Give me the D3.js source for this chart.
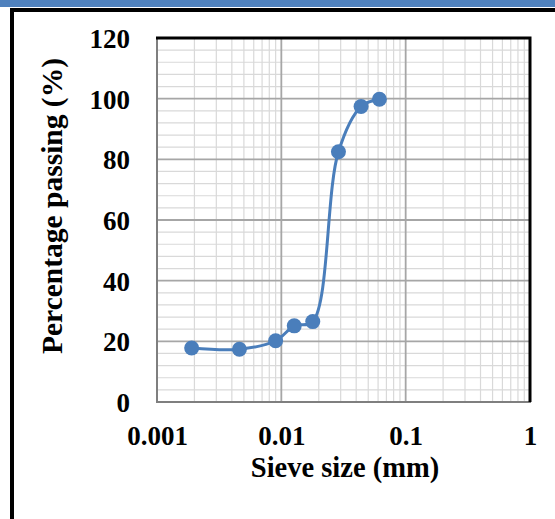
<!DOCTYPE html>
<html>
<head>
<meta charset="utf-8">
<script src="https://cdn.jsdelivr.net/npm/d3@7.9.0/dist/d3.min.js"></script>
<style>
  body { margin: 0; background: #fff; }
  svg { display: block; }
  .tick text, .title { font-family: "Liberation Serif", "Times New Roman", serif; font-weight: bold; fill: #000; }
</style>
</head>
<body>
<svg id="chart" width="555" height="519"></svg>
<script>
// grain size distribution
const sieveSize = [0.0019, 0.0046, 0.009, 0.0127, 0.0179, 0.0288, 0.0438, 0.0615];
const passing = [17.8, 17.4, 20.2, 25.1, 26.5, 82.5, 97.4, 99.8];
const xTicks = [0.001, 0.01, 0.1, 1];
const xTickLabels = ['0.001', '0.01', '0.1', '1'];
const yTicks = [0, 20, 40, 60, 80, 100, 120];

const svg = d3.select('#chart');
const plotL = 157, plotR = 530, plotT = 38, plotB = 402;
const blue = '#4a7ebb';

// frame round the picture
svg.append('rect').attr('x', 0).attr('y', 0).attr('width', 555).attr('height', 7).attr('fill', '#4f81bd');
svg.append('rect').attr('x', 10).attr('y', 8).attr('width', 545).attr('height', 4).attr('fill', '#000');
svg.append('rect').attr('x', 10).attr('y', 8).attr('width', 4).attr('height', 511).attr('fill', '#000');

const x = d3.scaleLog().domain([0.001, 1]).range([plotL, plotR]);
const y = d3.scaleLinear().domain([0, 120]).range([plotB, plotT]);

// minor grid
const minorX = [];
[0.001, 0.01, 0.1].forEach(d => { for (let k = 2; k <= 9; k++) minorX.push(d * k); });
const minorY = d3.range(0, 121, 4).filter(v => v % 20 !== 0);

const grid = svg.append('g');
grid.selectAll('.mx').data(minorX).join('line')
  .attr('x1', d => x(d)).attr('x2', d => x(d)).attr('y1', plotT).attr('y2', plotB)
  .attr('stroke', '#d9d9d9').attr('stroke-width', 1.2);
grid.selectAll('.my').data(minorY).join('line')
  .attr('x1', plotL).attr('x2', plotR).attr('y1', d => y(d)).attr('y2', d => y(d))
  .attr('stroke', '#d9d9d9').attr('stroke-width', 1.2);
grid.selectAll('.jx').data(xTicks).join('line')
  .attr('x1', d => x(d)).attr('x2', d => x(d)).attr('y1', plotT).attr('y2', plotB)
  .attr('stroke', '#a6a6a6').attr('stroke-width', 1.8);
grid.selectAll('.jy').data(yTicks).join('line')
  .attr('x1', plotL).attr('x2', plotR).attr('y1', d => y(d)).attr('y2', d => y(d))
  .attr('stroke', '#a6a6a6').attr('stroke-width', 1.8);

// plot border
svg.append('rect').attr('x', plotL).attr('y', plotT).attr('width', plotR - plotL).attr('height', plotB - plotT)
  .attr('fill', 'none').attr('stroke', '#7f7f7f').attr('stroke-width', 2);
svg.append('path').attr('d', `M${plotL - 1},${plotT}H${plotR}V${plotB}`)
  .attr('fill', 'none').attr('stroke', '#000').attr('stroke-width', 3);

// axes
const xAxis = svg.append('g').attr('transform', `translate(0,${plotB})`)
  .call(d3.axisBottom(x).tickValues(xTicks).tickFormat((d, i) => xTickLabels[i]).tickSize(0));
xAxis.select('.domain').remove();
xAxis.selectAll('text').attr('y', 43).attr('dy', null).attr('font-size', 27);

const yAxis = svg.append('g').attr('transform', `translate(${plotL},0)`)
  .call(d3.axisLeft(y).tickValues(yTicks).tickSize(0));
yAxis.select('.domain').remove();
yAxis.selectAll('text').attr('x', -27).attr('dy', '0.35em').attr('font-size', 27);

// titles
svg.append('text').attr('class', 'title').attr('x', 345).attr('y', 477)
  .attr('text-anchor', 'middle').attr('font-size', 28.5).text('Sieve size (mm)');
svg.append('text').attr('class', 'title')
  .attr('transform', 'translate(62,206) rotate(-90)')
  .attr('text-anchor', 'middle').attr('font-size', 29.5).text('Percentage passing (%)');

// series
const pts = sieveSize.map((s, i) => [s, passing[i]]);
const line = d3.line().x(d => x(d[0])).y(d => y(d[1])).curve(d3.curveCatmullRom.alpha(0.5));
svg.append('path').attr('d', line(pts)).attr('fill', 'none').attr('stroke', blue).attr('stroke-width', 3);
svg.selectAll('.pt').data(pts).join('circle')
  .attr('cx', d => x(d[0])).attr('cy', d => y(d[1])).attr('r', 7.5).attr('fill', blue);
</script>
</body>
</html>
